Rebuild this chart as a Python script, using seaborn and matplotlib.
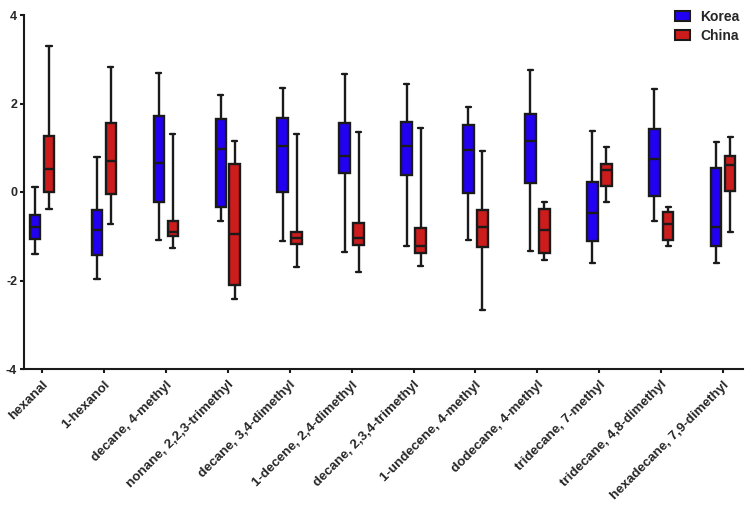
import numpy as np
import pandas as pd
import matplotlib
matplotlib.use("Agg")
import matplotlib.pyplot as plt
import seaborn as sns

categories = ["hexanal", "1-hexanol", "decane, 4-methyl", "nonane, 2,2,3-trimethyl",
              "decane, 3,4-dimethyl", "1-decene, 2,4-dimethyl", "decane, 2,3,4-trimethyl",
              "1-undecene, 4-methyl", "dodecane, 4-methyl", "tridecane, 7-methyl",
              "tridecane, 4,8-dimethyl", "hexadecane, 7,9-dimethyl"]

korea_min = [-1.40, -1.96, -1.08, -0.65, -1.10, -1.36, -1.22, -1.08, -1.33, -1.60, -0.65, -1.60]
korea_q1  = [-1.06, -1.43, -0.23, -0.34, -0.01,  0.43,  0.39, -0.03,  0.20, -1.11, -0.08, -1.22]
korea_med = [-0.78, -0.86,  0.65,  0.98,  1.04,  0.81,  1.04,  0.94,  1.16, -0.48,  0.75, -0.78]
korea_q3  = [-0.52, -0.41,  1.71,  1.65,  1.68,  1.57,  1.59,  1.52,  1.77,  0.23,  1.42,  0.55]
korea_max = [ 0.12,  0.78,  2.69,  2.20,  2.35,  2.67,  2.43,  1.91,  2.75,  1.38,  2.32,  1.13]

china_min = [-0.39, -0.72, -1.26, -2.42, -1.69, -1.81, -1.68, -2.66, -1.53, -0.23, -1.23, -0.90]
china_q1  = [ 0.00, -0.05, -1.00, -2.11, -1.18, -1.19, -1.37, -1.25, -1.37,  0.14, -1.09,  0.02]
china_med = [ 0.51,  0.69, -0.91, -0.96, -1.05, -1.03, -1.22, -0.78, -0.85,  0.50, -0.72,  0.62]
china_q3  = [ 1.27,  1.56, -0.66,  0.63, -0.90, -0.70, -0.81, -0.41, -0.38,  0.63, -0.46,  0.82]
china_max = [ 3.31,  2.82,  1.32,  1.16,  1.32,  1.35,  1.45,  0.93, -0.23,  1.02, -0.33,  1.24]

groups = ["Korea", "China"]
colors = {"Korea": "#2200F2", "China": "#CC1C1C"}

rows = []
for i, cat in enumerate(categories):
    for g, stats in (("Korea", (korea_min, korea_q1, korea_med, korea_q3, korea_max)),
                     ("China", (china_min, china_q1, china_med, china_q3, china_max))):
        for s in stats:
            rows.append({"compound": cat, "Country": g, "value": s[i]})
df = pd.DataFrame(rows)

sns.set_style("ticks")
plt.rcParams["font.family"] = ["Liberation Sans", "DejaVu Sans"]
plt.rcParams["font.weight"] = "bold"

fig = plt.figure(figsize=(7.53, 5.13), dpi=100)
ax = fig.add_axes([24/753, 1 - 369/513, (743 - 24)/753, (369 - 15)/513])

sns.boxplot(data=df, x="compound", y="value", hue="Country", order=categories,
            hue_order=groups, palette=colors, whis=(0, 100), width=0.45, gap=0.25,
            linecolor="#1a1a1a", linewidth=1.7, saturation=1, fliersize=0, ax=ax)

ax.set_ylim(-4, 4)
ax.set_xlim(-0.29, 11.32)
ax.set_yticks([-4, -2, 0, 2, 4])
ax.set_yticklabels(["-4", "-2", "0", "2", "4"], fontsize=9, fontweight="bold")
ax.set_xlabel("")
ax.set_ylabel("")
ax.set_xticks(range(len(categories)))
ax.set_xticklabels(categories, rotation=45, ha="right", rotation_mode="anchor",
                   fontsize=9.6, fontweight="bold")
ax.tick_params(axis="y", length=3, width=1.5, color="#1a1a1a", pad=2)
ax.tick_params(axis="x", length=3, width=1.5, color="#1a1a1a", pad=4)
for side in ("top", "right"):
    ax.spines[side].set_visible(False)
for side in ("left", "bottom"):
    ax.spines[side].set_linewidth(1.5)
    ax.spines[side].set_color("#1a1a1a")

handles, labels = ax.get_legend_handles_labels()
for h in handles:
    h.set_edgecolor("#1a1a1a")
    h.set_linewidth(1.5)
leg = ax.legend(handles, labels, loc="upper right", bbox_to_anchor=(1.012, 1.05),
                frameon=False, prop={"size": 10, "weight": "bold"},
                handlelength=1.1, handleheight=0.7, handletextpad=0.7, labelspacing=0.35)

fig.savefig("out.png", dpi=100)
